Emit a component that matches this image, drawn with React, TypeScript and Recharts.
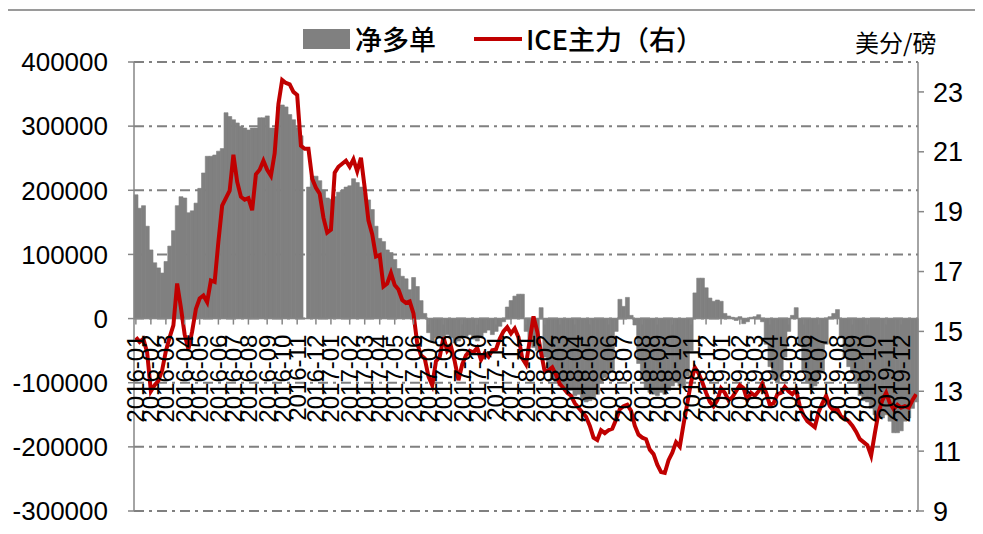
import React from "react";
import {
  ComposedChart,
  Bar,
  Line,
  XAxis,
  YAxis,
  CartesianGrid,
  ReferenceLine,
} from "recharts";

// weekly COT net long (contracts), Tuesday reports
const NET_2016 = [
  193000, 172000, 176000, 144000, 107000, 87000, 79000, 71000, 89000, 113000,
  137000, 176000, 190000, 188000, 165000, 168000, 180000, 203000, 227000, 253000,
  253000, 255000, 261000, 265000, 321000, 315000, 310000, 305000, 300000, 297000,
  294000, 297000, 297000, 313000, 313000, 316000, 297000, 297000, 330000, 333000,
  330000, 318000, 310000, 298000, 285000, null, 205000, 222000, 222000, 215000,
  200000, 188000,
];
const NET_2017 = [
  186000, 190000, 197000, 200000, 205000, 207000, 218000, 212000, 205000, 196000,
  185000, 170000, 144000, 125000, 120000, 107000, 103000, 92000, 78000, 66000,
  62000, 45000, 64000, 50000, 28000, 8000, -22000, -35000, -30000, -28000,
  -32000, -25000, -30000, -38000, -35000, -30000, -28000, -25000, -32000, -35000,
  -30000, -22000, -18000, -25000, -20000, -12000, -5000, 18000, 28000, 35000,
  38000, 38000,
];
const NET_2018 = [
  -20000, -35000, -45000, -50000, 17000, -60000, -80000, -95000, -100000, -105000,
  -110000, -108000, -112000, -120000, -118000, -125000, -130000, -128000, -125000, -118000,
  -100000, -92000, -85000, -80000, -20000, 30000, 19000, 33000, 5000, -10000,
  -70000, -95000, -110000, -115000, -118000, -120000, -115000, -118000, -112000, -105000,
  -100000, -105000, -108000, -90000, -50000, 40000, 63000, 63000, 48000, 32000,
  27000, 29000,
];
const NET_2019 = [
  27000, 8000, 4000, 2000, -3000, 3000, -8000, -5000, 2000, 3000,
  6000, -5000, -40000, -75000, -95000, -100000, -90000, -60000, -20000, 5000,
  17000, -40000, -80000, -100000, -110000, -105000, -95000, -85000, -40000, 3000,
  8000, 14000, -30000, -60000, -75000, -85000, -100000, -120000, -128000, -130000,
  -140000, -150000, -152000, -155000, -150000, -160000, -178000, -178000, -175000, -160000,
  -155000, -140000, -130000,
];

// ICE front-month raw sugar, US cents/lb
const ICE_2016 = [
  14.8, 14.65, 14.75, 14.3, 13.0, 13.2, 13.35, 13.7, 14.35, 14.8,
  15.2, 16.6, 15.8, 14.9, 14.4, 15.0, 15.75, 16.1, 16.2, 15.98,
  16.7, 16.65, 18.0, 19.2, 19.45, 19.7, 20.9, 20.0, 19.5, 19.4,
  19.45, 19.05, 20.25, 20.4, 20.7, 20.4, 20.2, 20.95, 22.6, 23.4,
  23.3, 23.25, 23.0, 22.9, 21.2, 21.1, 21.1, 20.1, 19.8, 19.6,
  18.8, 18.3,
];
const ICE_2017 = [
  18.4, 20.3, 20.5, 20.6, 20.7, 20.5, 20.75, 20.35, 20.8, 19.8,
  18.7, 18.25, 17.5, 17.55, 16.5, 16.6, 16.95, 16.55, 16.4, 16.05,
  15.95, 16.0, 15.6, 14.6, 14.2, 14.1, 13.5, 13.2, 14.0, 14.15,
  14.8, 14.35, 14.5, 14.0, 13.37, 13.9, 14.2, 14.35, 14.3, 14.45,
  14.05, 14.27, 14.15, 14.37, 14.4, 14.75, 15.0, 15.14, 14.93, 15.1,
  14.8, 14.1,
];
const ICE_2018 = [
  13.9, 14.7, 15.5, 15.0, 14.3, 13.65, 13.7, 13.8, 13.55, 13.25,
  13.1, 12.95, 12.85, 12.6, 12.45, 12.3, 12.15, 11.85, 11.45, 11.37,
  11.7, 11.6, 11.7, 11.75, 12.05, 12.4, 12.5, 12.55, 12.35, 11.85,
  11.55, 11.45, 11.4, 11.05, 10.9, 10.55, 10.3, 10.27, 10.7, 10.95,
  11.3, 11.15, 11.9, 12.6, 13.3, 13.8, 13.6, 13.3, 12.95, 12.65,
  12.5, 12.7,
];
const ICE_2019 = [
  13.1, 12.95, 12.7, 12.8, 13.0, 13.2, 13.1, 12.7, 12.95, 12.85,
  13.0, 13.25, 12.95, 12.55, 12.6, 12.9, 12.95, 13.15, 13.0, 12.9,
  13.05, 12.5, 12.2, 12.0, 11.9, 11.8, 12.3, 12.6, 12.85, 12.5,
  12.35, 12.4, 12.15, 12.1, 12.0, 11.85, 11.65, 11.4, 11.3, 11.2,
  10.85, 11.6, 12.3, 12.7, 12.95, 12.6, 12.4, 12.55, 12.45, 12.5,
  12.45, 12.7, 12.9,
];

const FIRST_REPORT = "2016-01-05";
const LEFT_TICKS = [-300000, -200000, -100000, 0, 100000, 200000, 300000, 400000];
const RIGHT_TICKS = [9, 11, 13, 15, 17, 19, 21, 23];
const RIGHT_DOMAIN = [9, 24];

const W = 983;
const H = 534;
const X_AXIS_H = 1;
const MARGIN = { top: 62, right: 8, bottom: 23 - X_AXIS_H, left: 8 };
const PLOT_BOTTOM = H - MARGIN.bottom - X_AXIS_H;
const LEFT_MIN = LEFT_TICKS[0];
const LEFT_MAX = LEFT_TICKS[LEFT_TICKS.length - 1];
// category labels hang from the zero line of the left axis
const ZERO_Y =
  MARGIN.top + ((PLOT_BOTTOM - MARGIN.top) * LEFT_MAX) / (LEFT_MAX - LEFT_MIN);

const NUM_FONT = "'Liberation Sans', Arial, sans-serif";
const CJK_FONT = "'Noto Sans CJK SC', 'Liberation Sans', sans-serif";

const net = [...NET_2016, ...NET_2017, ...NET_2018, ...NET_2019];
const ice = [...ICE_2016, ...ICE_2017, ...ICE_2018, ...ICE_2019];

const start = Date.parse(FIRST_REPORT + "T00:00:00Z");
const rows = net.map((v, i) => ({
  date: new Date(start + i * 7 * 86400000).toISOString().slice(0, 10),
  net: v,
  price: ice[i],
}));

// first report of each month gets a label
const monthTicks = rows
  .filter((r, i) => i === 0 || r.date.slice(0, 7) !== rows[i - 1].date.slice(0, 7))
  .map((r) => r.date);

function renderMonthTick(props: any) {
  const { x, payload } = props;
  return (
    <g key={payload.value}>
      <line x1={x} x2={x} y1={ZERO_Y} y2={ZERO_Y + 6} stroke="#868686" strokeWidth={1.5} />
      <text
        transform={`translate(${x},${ZERO_Y + 16}) rotate(-90)`}
        textAnchor="end"
        dominantBaseline="central"
        fontSize={24}
        fontFamily={NUM_FONT}
        fill="#000"
      >
        {String(payload.value).slice(0, 7)}
      </text>
    </g>
  );
}

export default function App() {
  return (
    <div
      style={{
        position: "relative",
        width: W,
        height: H,
        margin: -8,
        background: "#fff",
        overflow: "hidden",
      }}
    >
      <div
        style={{
          position: "absolute",
          left: 0,
          top: 0,
          width: W,
          height: 7,
          background: "#c4c4c4",
        }}
      />
      <div
        style={{
          position: "absolute",
          left: 6,
          top: 9,
          width: 968,
          height: 540,
          border: "2px solid #9a9a9a",
        }}
      />

      <ComposedChart
        width={W}
        height={H}
        data={rows}
        margin={MARGIN}
        barCategoryGap={0}
        barGap={0}
        style={{ position: "absolute", left: 0, top: 0 }}
      >
        <CartesianGrid
          yAxisId="left"
          vertical={false}
          stroke="#808080"
          strokeWidth={2}
          strokeDasharray="10 5 3 5"
        />
        <XAxis
          dataKey="date"
          height={X_AXIS_H}
          axisLine={false}
          tickLine={false}
          ticks={monthTicks}
          interval={0}
          tick={renderMonthTick}
        />
        <YAxis
          yAxisId="left"
          width={126}
          domain={[LEFT_MIN, LEFT_MAX]}
          ticks={LEFT_TICKS}
          interval={0}
          axisLine={{ stroke: "#868686", strokeWidth: 1.5 }}
          tickLine={{ stroke: "#868686", strokeWidth: 1.5 }}
          tickSize={6}
          tickMargin={20}
          tick={{ fill: "#000", fontSize: 26, fontFamily: NUM_FONT }}
        />
        <YAxis
          yAxisId="right"
          orientation="right"
          width={57}
          domain={RIGHT_DOMAIN}
          ticks={RIGHT_TICKS}
          interval={0}
          axisLine={{ stroke: "#868686", strokeWidth: 1.5 }}
          tickLine={{ stroke: "#868686", strokeWidth: 1.5 }}
          tickSize={6}
          tickMargin={9}
          tick={{ fill: "#000", fontSize: 27, fontFamily: NUM_FONT }}
        />
        <Bar
          yAxisId="left"
          dataKey="net"
          fill="#808080"
          stroke="#808080"
          strokeWidth={0.6}
          isAnimationActive={false}
        />
        <ReferenceLine yAxisId="left" y={0} stroke="#868686" strokeWidth={1.5} />
        <Line
          yAxisId="right"
          dataKey="price"
          type="linear"
          stroke="#c00000"
          strokeWidth={4}
          dot={false}
          activeDot={false}
          isAnimationActive={false}
        />
      </ComposedChart>

      <div
        style={{
          position: "absolute",
          left: 303,
          top: 24,
          display: "flex",
          alignItems: "center",
          fontFamily: CJK_FONT,
          fontSize: 27,
          fontWeight: 500,
          color: "#000",
          lineHeight: "30px",
        }}
      >
        <span style={{ width: 47, height: 20, background: "#808080", marginRight: 5 }} />
        <span>净多单</span>
        <span
          style={{
            width: 48,
            height: 4,
            background: "#c00000",
            marginLeft: 38,
            marginRight: 4,
          }}
        />
        <span>ICE主力（右）</span>
      </div>
      <div
        style={{
          position: "absolute",
          left: 855,
          top: 28,
          fontFamily: CJK_FONT,
          fontSize: 24,
          lineHeight: "28px",
          color: "#000",
        }}
      >
        美分/磅
      </div>
    </div>
  );
}
